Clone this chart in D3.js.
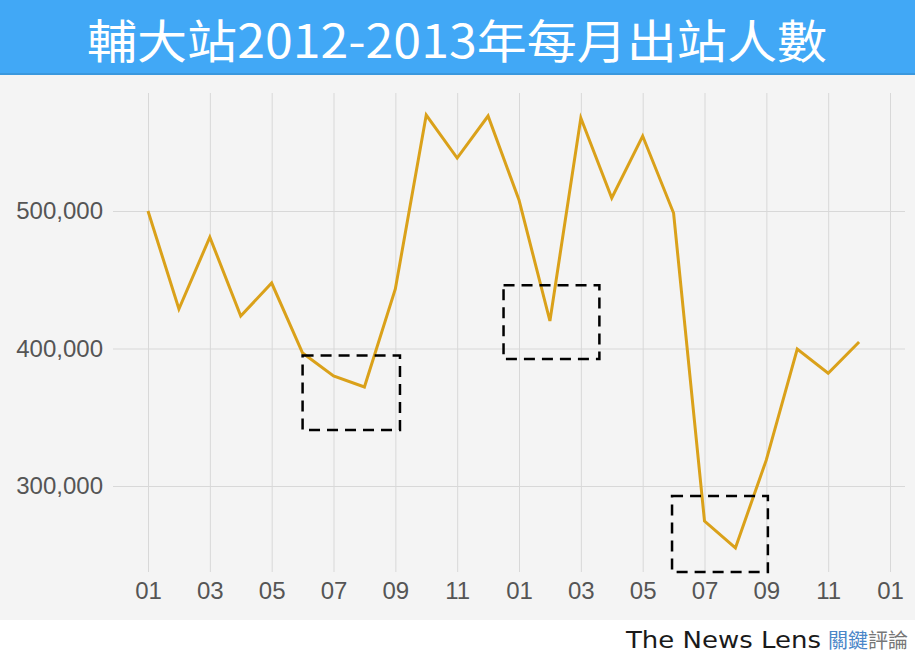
<!DOCTYPE html>
<html>
<head>
<meta charset="utf-8">
<script src="https://cdn.jsdelivr.net/npm/d3@7"></script>
<style>
  body { margin: 0; background: #fff; }
  svg { display: block; }
</style>
</head>
<body>
<svg id="chart" width="915" height="657"></svg>
<script>
// monthly exits, Fu Jen station, Jan 2012 - Dec 2013
const months = ["2012-01","2012-02","2012-03","2012-04","2012-05","2012-06","2012-07","2012-08","2012-09","2012-10","2012-11","2012-12",
                "2013-01","2013-02","2013-03","2013-04","2013-05","2013-06","2013-07","2013-08","2013-09","2013-10","2013-11","2013-12"];
const exits = [500000, 428700, 481000, 423600, 447600, 396700, 380000, 372000, 443300, 569800, 538500, 569100,
               508000, 420000, 567600, 509500, 554500, 498500, 274500, 255000, 319000, 399600, 382000, 404700];
const xTickIdx = [0, 2, 4, 6, 8, 10, 12, 14, 16, 18, 20, 22, 24];
const xTickLabels = ["01","03","05","07","09","11","01","03","05","07","09","11","01"];
const yTicks = [300000, 400000, 500000];
// highlighted boxes: [month index from, month index to, value low, value high]
const boxes = [
  [5.0, 8.15, 340700, 395000],
  [11.5, 14.6, 392400, 446000],
  [16.95, 20.05, 237500, 292700]
];

const W = 915, H = 657;
const svg = d3.select("#chart");

// backgrounds
svg.append("rect").attr("x", 0).attr("y", 0).attr("width", W).attr("height", 620).attr("fill", "#f4f4f4");
svg.append("rect").attr("x", 0).attr("y", 0).attr("width", W).attr("height", 75).attr("fill", "#41a8f6");
svg.append("rect").attr("x", 0).attr("y", 73).attr("width", W).attr("height", 2).attr("fill", "#3a98de");

// title
svg.append("text")
  .attr("x", 457).attr("y", 58)
  .attr("text-anchor", "middle")
  .attr("fill", "#fff")
  .attr("font-family", "'Noto Sans CJK TC', 'Noto Sans CJK SC', sans-serif")
  .attr("font-weight", 400)
  .attr("font-size", 46)
  .attr("textLength", 740)
  .attr("lengthAdjust", "spacingAndGlyphs")
  .text("輔大站2012-2013年每月出站人數");

const x = d3.scaleLinear().domain([0, 24]).range([148, 890]);
const y = d3.scaleLinear().domain([300000, 500000]).range([486, 211]);

// x axis with vertical grid
const gx = svg.append("g")
  .attr("transform", "translate(0,572)")
  .call(d3.axisBottom(x)
    .tickValues(xTickIdx)
    .tickFormat((d, i) => xTickLabels[i])
    .tickSize(-479)
    .tickPadding(10));
gx.select(".domain").remove();
gx.selectAll(".tick line").attr("stroke", "#d8d8d8");
gx.selectAll(".tick text")
  .attr("fill", "#555")
  .attr("font-family", "'Liberation Sans Narrow', 'Liberation Sans', Arial, sans-serif")
  .attr("font-size", 24);

// y axis with horizontal grid
const gy = svg.append("g")
  .attr("transform", "translate(113,0)")
  .call(d3.axisLeft(y)
    .tickValues(yTicks)
    .tickFormat(d3.format(","))
    .tickSize(-792)
    .tickPadding(10));
gy.select(".domain").remove();
gy.selectAll(".tick line").attr("stroke", "#d8d8d8");
gy.selectAll(".tick text")
  .attr("fill", "#555")
  .attr("font-family", "'Liberation Sans', Arial, sans-serif")
  .attr("font-size", 24);

// line
const line = d3.line()
  .x((d, i) => x(i))
  .y(d => y(d));
svg.append("path")
  .datum(exits)
  .attr("fill", "none")
  .attr("stroke", "#daa11a")
  .attr("stroke-width", 3)
  .attr("stroke-linejoin", "miter")
  .attr("d", line);

// dashed boxes
svg.selectAll("rect.box")
  .data(boxes)
  .join("rect")
  .attr("class", "box")
  .attr("x", d => x(d[0]))
  .attr("y", d => y(d[3]))
  .attr("width", d => x(d[1]) - x(d[0]))
  .attr("height", d => y(d[2]) - y(d[3]))
  .attr("fill", "none")
  .attr("stroke", "#000")
  .attr("stroke-width", 2.5)
  .attr("stroke-dasharray", "11,7");

// footer
const foot = svg.append("text")
  .attr("x", 626).attr("y", 648)
  .attr("font-family", "'DejaVu Sans', sans-serif");
foot.append("tspan")
  .attr("fill", "#1a1a1a")
  .attr("font-size", 23)
  .attr("textLength", 195)
  .attr("lengthAdjust", "spacingAndGlyphs")
  .text("The News Lens");
foot.append("tspan")
  .attr("dx", 7)
  .attr("fill", "#4a86c8")
  .attr("font-size", 20)
  .attr("font-family", "'Noto Sans CJK TC', sans-serif")
  .text("關鍵");
foot.append("tspan")
  .attr("fill", "#777")
  .attr("font-size", 20)
  .attr("font-family", "'Noto Sans CJK TC', sans-serif")
  .text("評論");
</script>
</body>
</html>
